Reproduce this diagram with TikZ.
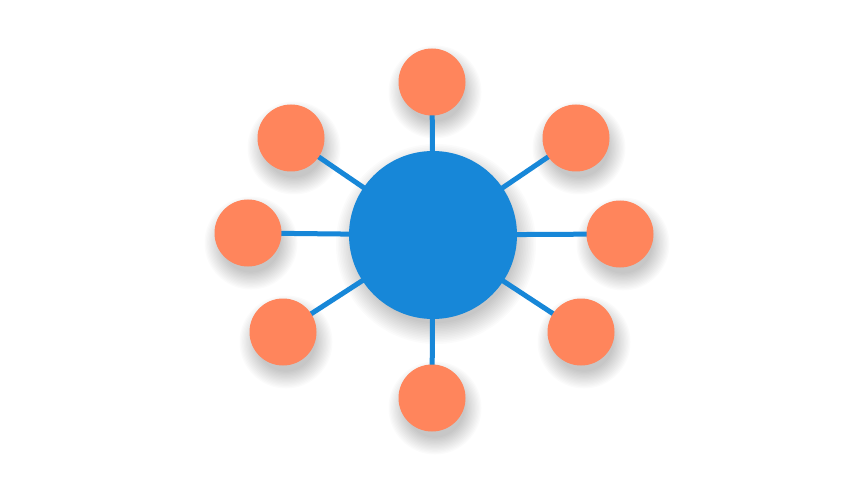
\documentclass[tikz,border=0pt]{standalone}
\usetikzlibrary{calc}
\definecolor{hubblue}{HTML}{1787D8}
\definecolor{leaforange}{HTML}{FF855C}
\begin{document}
\begin{tikzpicture}[x=1pt,y=-1pt,
  hub/.style={circle,fill=hubblue,minimum size=168pt,inner sep=0pt},
  leaf/.style={circle,fill=leaforange,minimum size=67pt,inner sep=0pt},
  spoke/.style={draw=hubblue,line width=5pt},
  shade/.style={fill=black,opacity=0.014}]
\useasboundingbox (0,0) rectangle (860,484);
\fill[white] (0,0) rectangle (860,484);
\coordinate (c) at (433,235);
% soft shadows
\foreach \k in {0,...,13}{
  \fill[shade] ($(c)+(3,9)$) circle ({84+16-\k*1.6});
}
\foreach \x/\y in {432/82, 576/138, 620/234, 581/332, 432/398, 283/332, 248/233, 291/138}{
  \foreach \k in {0,...,13}{
    \fill[shade] (\x+3,\y+10) circle ({33.5+13-\k*1.3});
  }
}
\foreach \n/\x/\y in {t/432/82, tr/576/138, r/620/234, br/581/332, b/432/398, bl/283/332, l/248/233, tl/291/138}{
  \coordinate (p\n) at (\x,\y);
  \draw[spoke] (c) -- (p\n);
}
\node[hub] (hub) at (c) {};
\foreach \n in {t,tr,r,br,b,bl,l,tl}{
  \node[leaf] (\n) at (p\n) {};
}
\end{tikzpicture}
\end{document}
